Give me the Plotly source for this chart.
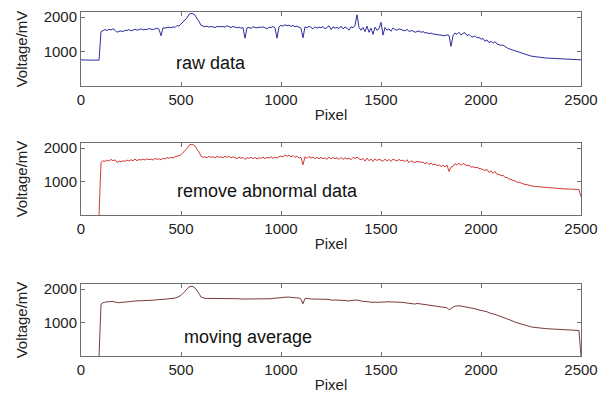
import plotly.graph_objects as go

# ---------------- data ----------------
pixel = list(range(0, 2501, 10))

raw_data = [
    760, 755, 750, 752, 748, 750, 753, 749, 751, 750,
    1580, 1620, 1640, 1610, 1650, 1630, 1660, 1620, 1560, 1590,
    1600, 1580, 1620, 1610, 1640, 1600, 1630, 1650, 1620, 1640,
    1660, 1630, 1650, 1640, 1670, 1650, 1640, 1660, 1680, 1650,
    1460, 1690, 1680, 1700, 1710, 1690, 1720, 1700, 1760, 1740,
    1800, 1850, 1930, 1980, 2080, 2110, 2100, 2060, 1960, 1880,
    1760, 1730, 1720, 1740, 1710, 1730, 1720, 1700, 1730, 1720,
    1720, 1730, 1710, 1750, 1720, 1700, 1730, 1720, 1690, 1710,
    1680, 1700, 1390, 1690, 1700, 1670, 1720, 1700, 1690, 1710,
    1700, 1720, 1690, 1660, 1710, 1700, 1730, 1690, 1390, 1720,
    1760, 1740, 1780, 1750, 1770, 1730, 1760, 1720, 1740, 1700,
    1680, 1400, 1720, 1690, 1740, 1700, 1660, 1720, 1680, 1710,
    1690, 1730, 1660, 1700, 1750, 1640, 1720, 1680, 1700, 1670,
    1740, 1660, 1710, 1680, 1620, 1720, 1690, 1760, 2070, 1700,
    1620, 1700, 1580, 1740, 1560, 1680, 1500, 1710, 1620, 1660,
    1850, 1480, 1700, 1620, 1660, 1590, 1690, 1640, 1620, 1660,
    1640, 1620, 1600, 1650, 1580, 1610, 1600, 1560, 1590, 1600,
    1560, 1580, 1540, 1550, 1520, 1540, 1510, 1500, 1490, 1480,
    1470, 1480, 1460, 1490, 1470, 1150, 1460, 1540, 1500, 1560,
    1480, 1530, 1550, 1460, 1500, 1440, 1420, 1460, 1400, 1410,
    1360, 1380, 1300, 1340, 1260, 1300, 1240, 1290, 1220, 1200,
    1180, 1190, 1140, 1110, 1080, 1060, 1040, 1010, 990, 970,
    950, 930, 910, 900, 880, 870, 860, 850, 840, 830,
    825, 820, 815, 810, 808, 805, 800, 795, 790, 788,
    785, 782, 780, 778, 775, 772, 770, 768, 765, 762,
    760,
]

removed_data = [
    None, None, None, None, None, None, None, None, None, 0,
    1570, 1620, 1600, 1640, 1610, 1660, 1620, 1650, 1570, 1610,
    1590, 1620, 1600, 1640, 1610, 1650, 1620, 1670, 1620, 1660,
    1640, 1670, 1640, 1680, 1650, 1670, 1640, 1690, 1660, 1680,
    1650, 1700, 1670, 1720, 1690, 1720, 1700, 1740, 1750, 1770,
    1800, 1860, 1930, 1990, 2080, 2110, 2100, 2060, 1960, 1880,
    1760, 1720, 1740, 1710, 1750, 1720, 1740, 1700, 1750, 1720,
    1740, 1710, 1750, 1720, 1760, 1700, 1740, 1710, 1680, 1730,
    1690, 1720, 1660, 1710, 1690, 1730, 1680, 1720, 1670, 1710,
    1690, 1730, 1680, 1720, 1700, 1740, 1690, 1730, 1700, 1740,
    1760, 1730, 1800, 1750, 1790, 1730, 1780, 1720, 1760, 1700,
    1720, 1500, 1740, 1690, 1750, 1700, 1730, 1680, 1720, 1680,
    1720, 1680, 1710, 1660, 1730, 1670, 1720, 1680, 1710, 1660,
    1720, 1660, 1710, 1670, 1700, 1650, 1720, 1690, 1730, 1680,
    1650, 1690, 1610, 1700, 1620, 1670, 1600, 1680, 1620, 1670,
    1630, 1600, 1670, 1610, 1660, 1600, 1670, 1630, 1610, 1660,
    1620, 1640, 1590, 1650, 1560, 1620, 1580, 1570, 1600, 1590,
    1570, 1580, 1530, 1570, 1510, 1550, 1500, 1520, 1470, 1500,
    1450, 1480, 1440, 1490, 1300, 1430, 1450, 1540, 1490, 1550,
    1480, 1540, 1510, 1470, 1490, 1430, 1440, 1410, 1430, 1390,
    1380, 1360, 1330, 1360, 1270, 1320, 1240, 1300, 1210, 1220,
    1170, 1190, 1120, 1120, 1070, 1070, 1030, 1020, 980, 980,
    950, 935, 910, 905, 880, 875, 858, 852, 840, 838,
    830, 826, 818, 816, 810, 808, 803, 800, 794, 792,
    786, 783, 779, 778, 773, 772, 768, 767, 762, 760,
    540,
]

moving_avg = [
    None, None, None, None, None, None, None, None, None, 0,
    1550, 1590, 1610, 1620, 1620, 1630, 1630, 1610, 1590, 1590,
    1600, 1600, 1610, 1620, 1620, 1630, 1640, 1640, 1640, 1650,
    1650, 1650, 1660, 1660, 1660, 1670, 1670, 1670, 1680, 1680,
    1680, 1690, 1700, 1700, 1710, 1710, 1720, 1730, 1750, 1770,
    1810, 1870, 1940, 2000, 2060, 2080, 2070, 2030, 1960, 1870,
    1760, 1730, 1720, 1720, 1720, 1720, 1720, 1720, 1730, 1720,
    1720, 1730, 1720, 1730, 1730, 1720, 1720, 1710, 1710, 1710,
    1700, 1700, 1690, 1690, 1700, 1700, 1710, 1700, 1700, 1700,
    1700, 1700, 1700, 1700, 1710, 1710, 1720, 1720, 1720, 1730,
    1740, 1750, 1760, 1760, 1760, 1750, 1750, 1740, 1740, 1730,
    1700, 1560, 1720, 1710, 1720, 1710, 1700, 1700, 1700, 1690,
    1690, 1690, 1680, 1680, 1690, 1670, 1680, 1670, 1670, 1660,
    1670, 1660, 1660, 1650, 1640, 1660, 1670, 1680, 1670, 1660,
    1640, 1630, 1630, 1620, 1610, 1620, 1600, 1610, 1600, 1600,
    1610, 1600, 1610, 1620, 1620, 1610, 1620, 1610, 1600, 1600,
    1610, 1600, 1590, 1580, 1570, 1560, 1560, 1550, 1570, 1560,
    1550, 1540, 1540, 1530, 1510, 1500, 1490, 1480, 1470, 1470,
    1460, 1450, 1450, 1440, 1380, 1430, 1460, 1490, 1500, 1500,
    1490, 1480, 1480, 1460, 1450, 1430, 1420, 1410, 1390, 1380,
    1360, 1350, 1330, 1320, 1290, 1280, 1260, 1240, 1220, 1200,
    1180, 1160, 1140, 1110, 1080, 1060, 1040, 1010, 990, 970,
    950, 930, 910, 900, 880, 870, 860, 850, 840, 835,
    830, 825, 820, 815, 812, 808, 805, 800, 795, 790,
    785, 782, 780, 778, 775, 772, 770, 768, 765, 760,
    0,
]

x_ticks = [0, 500, 1000, 1500, 2000, 2500]
y_ticks = [1000, 2000]
labels = ["raw data", "remove abnormal data", "moving average"]
x_title = "Pixel"
y_title = "Voltage/mV"

# ---------------- figure ----------------
FONT = "Liberation Sans, Arial, sans-serif"
fig = go.Figure()

series = [raw_data, removed_data, moving_avg]
colors = ["#2e2ea0", "#d23a3a", "#7a3d3d"]
xdomain = [0.1215, 0.9534]
ydomains = [[0.7990, 0.9897], [0.4665, 0.6521], [0.1031, 0.2887]]
label_pos = [(465, 668), (472, 726), (505, 576)]

for i, (ys, col) in enumerate(zip(series, colors)):
    sfx = "" if i == 0 else str(i + 1)
    fig.add_trace(go.Scatter(
        x=pixel, y=ys, mode="lines",
        line=dict(color=col, width=1),
        xaxis="x" + sfx, yaxis="y" + sfx, showlegend=False,
    ))
    axis_common = dict(
        showline=True, linecolor="#6e6e6e", linewidth=1, mirror="ticks",
        ticks="inside", ticklen=4, tickcolor="#6e6e6e", tickwidth=1,
        showgrid=False, zeroline=False, automargin=False,
        tickfont=dict(family=FONT, size=15, color="#222"),
        layer="above traces",
    )
    fig.update_layout(**{
        "xaxis" + sfx: dict(
            domain=xdomain, range=[0, 2500], tickvals=x_ticks,
            anchor="y" + sfx,
            title=dict(text=x_title, font=dict(family=FONT, size=15, color="#222"), standoff=2),
            **axis_common,
        ),
        "yaxis" + sfx: dict(
            domain=ydomains[i], range=[0, 2150], tickvals=y_ticks,
            anchor="x" + sfx,
            title=dict(text=y_title, font=dict(family=FONT, size=15, color="#222"), standoff=12),
            **axis_common,
        ),
    })
    fig.add_annotation(
        x=label_pos[i][0], y=label_pos[i][1], xref="x" + sfx, yref="y" + sfx,
        text=labels[i], showarrow=False, xanchor="left", yanchor="middle",
        font=dict(family=FONT, size=18, color="#111"),
    )

# page body keeps its default 8px margin, so the figure is 8px smaller
fig.update_layout(
    width=601, height=388,
    margin=dict(l=0, r=0, t=0, b=0),
    paper_bgcolor="white", plot_bgcolor="white",
)

fig.write_html("out.html")
